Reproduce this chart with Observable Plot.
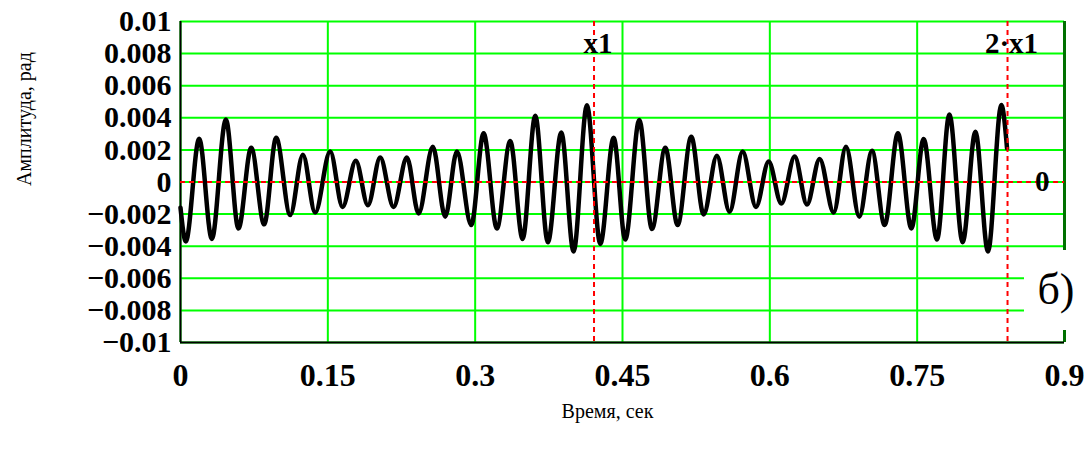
<!DOCTYPE html>
<html><head><meta charset="utf-8">
<script src="https://cdn.jsdelivr.net/npm/d3@7"></script>
<script src="https://cdn.jsdelivr.net/npm/@observablehq/plot@0.6"></script>
<style>
body{margin:0;background:#fff;}
#wrap{position:relative;width:1091px;height:450px;overflow:hidden;}
#tag{position:absolute;left:1024px;top:250px;width:64px;height:80px;background:#fff;font:44px "Liberation Serif",serif;line-height:80px;text-align:center;color:#000;}
</style></head><body><div id="wrap"></div>
<script>
const time = [0, 0.0054, 0.019, 0.0319, 0.0462, 0.059, 0.072, 0.0852, 0.0974, 0.1117, 0.1246, 0.1371, 0.1524, 0.165, 0.1785, 0.1908, 0.2033, 0.2169, 0.2305, 0.2424, 0.2569, 0.2695, 0.2814, 0.296, 0.3086, 0.3221, 0.3357, 0.3483, 0.3612, 0.374, 0.3877, 0.4002, 0.4138, 0.4274, 0.441, 0.4528, 0.4671, 0.48, 0.4936, 0.5061, 0.52, 0.5326, 0.5461, 0.559, 0.5723, 0.5859, 0.5988, 0.6117, 0.6253, 0.6378, 0.6507, 0.665, 0.6775, 0.6911, 0.704, 0.7169, 0.7304, 0.7441, 0.7566, 0.7702, 0.7828, 0.7963, 0.8093, 0.8221, 0.8357, 0.8415];
const amplitude = [-0.0016, -0.0037, 0.0027, -0.00355, 0.0039, -0.0029, 0.00214, -0.00264, 0.00276, -0.00206, 0.0017, -0.0019, 0.0019, -0.00155, 0.00132, -0.00145, 0.00153, -0.00155, 0.00153, -0.00196, 0.0022, -0.00216, 0.0019, -0.00268, 0.00303, -0.00289, 0.00256, -0.00355, 0.00412, -0.00375, 0.00309, -0.00433, 0.00478, -0.00386, 0.00276, -0.00359, 0.00386, -0.00293, 0.00214, -0.00268, 0.00282, -0.00202, 0.00163, -0.00186, 0.0019, -0.00155, 0.00128, -0.00134, 0.00159, -0.0014, 0.00144, -0.0019, 0.0022, -0.00216, 0.00194, -0.00268, 0.00303, -0.00289, 0.00268, -0.00359, 0.00421, -0.00375, 0.00313, -0.00433, 0.0048, 0.0021];
const xTicks = [0, 0.15, 0.3, 0.45, 0.6, 0.75, 0.9];
const xTickLabels = ["0", "0.15", "0.3", "0.45", "0.6", "0.75", "0.9"];
const yTicks = [0.01, 0.008, 0.006, 0.004, 0.002, 0, -0.002, -0.004, -0.006, -0.008, -0.01];
const yTickLabels = ["0.01", "0.008", "0.006", "0.004", "0.002", "0", "\u22120.002", "\u22120.004", "\u22120.006", "\u22120.008", "\u22120.01"];
const markerX = [0.421, 0.842];
const markerLabels = ["x1", "2\u00b7x1"];
const zeroLevel = [0];
const zeroLabel = ["0"];
const xTitle = "Время, сек";
const yTitle = "Амплитуда, рад";
const panelTag = "б)";

const data = time.map((t, i) => ({t, a: amplitude[i]}));
const serif = "'Liberation Serif', 'Times New Roman', serif";

const chart = Plot.plot({
  width: 1091, height: 450,
  marginLeft: 180, marginRight: 27, marginTop: 21, marginBottom: 108,
  x: {domain: [0, 0.9]},
  y: {domain: [-0.01, 0.01]},
  style: {background: "#fff", fontFamily: serif, color: "#000"},
  marks: [
    Plot.gridX(xTicks, {stroke: "#00ff00", strokeOpacity: 1, strokeWidth: 2}),
    Plot.gridY(yTicks, {stroke: "#00ff00", strokeOpacity: 1, strokeWidth: 2}),
    Plot.ruleX([0.9], {stroke: "#007000", strokeWidth: 3}),
    Plot.ruleX([0], {stroke: "#000", strokeWidth: 2}),
    Plot.ruleY([-0.01], {stroke: "#000", strokeWidth: 2}),
    Plot.lineY(data, {x: "t", y: "a", curve: "monotone-x", stroke: "#000", strokeWidth: 4.5}),
    Plot.ruleY(zeroLevel, {stroke: "#ff0000", strokeWidth: 2, strokeDasharray: "5,4"}),
    Plot.ruleX(markerX, {stroke: "#ff0000", strokeWidth: 2, strokeDasharray: "5,4"}),
    Plot.axisX({ticks: xTicks, tickFormat: d => xTickLabels[xTicks.indexOf(d)], tickSize: 0, tickPadding: 21, fontSize: 32, fontWeight: "bold", label: null}),
    Plot.axisY({ticks: yTicks, tickFormat: d => yTickLabels[yTicks.indexOf(d)], tickSize: 0, tickPadding: 9, fontSize: 30, fontWeight: "bold", letterSpacing: "1px", label: null}),
    Plot.text(markerLabels, {x: markerX, text: d => d, frameAnchor: "top", dy: 22, dx: 4, lineAnchor: "middle", fontSize: 29, fontWeight: "bold"}),
    Plot.text(zeroLabel, {y: zeroLevel, text: d => d, frameAnchor: "right", dx: -15, lineAnchor: "middle", fontSize: 29, fontWeight: "bold"}),
    Plot.text([xTitle], {text: d => d, frameAnchor: "bottom", dx: -15, dy: 75, lineAnchor: "bottom", fontSize: 20}),
    Plot.text([yTitle], {text: d => d, frameAnchor: "left", rotate: -90, dx: -164, dy: 4, lineAnchor: "top", fontSize: 20})
  ]
});
const wrap = document.getElementById("wrap");
wrap.appendChild(chart);
const tag = document.createElement("div");
tag.id = "tag";
tag.textContent = panelTag;
wrap.appendChild(tag);
</script>
</body></html>
